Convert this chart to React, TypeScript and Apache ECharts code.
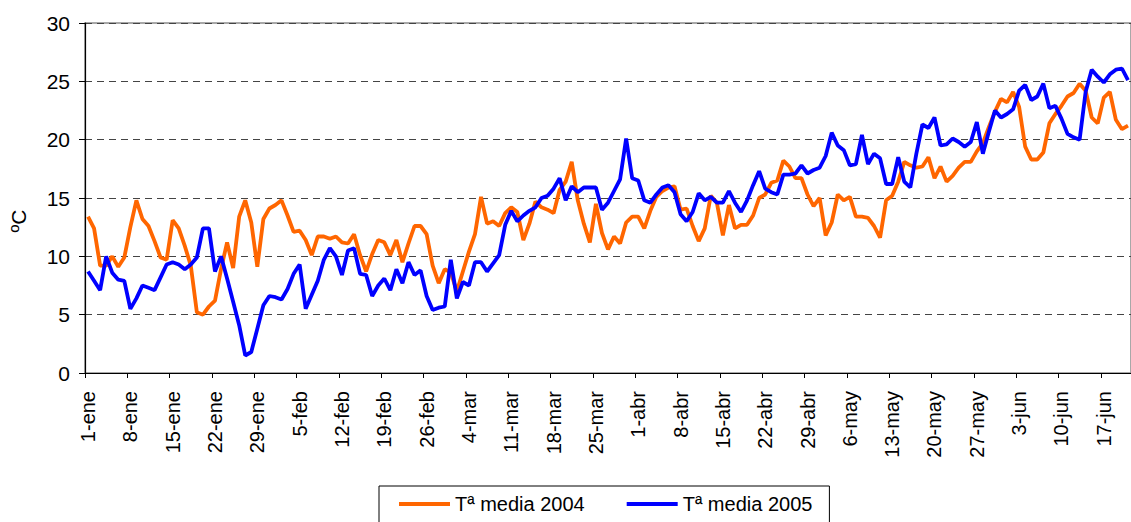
import { useEffect, useRef } from "react";
import * as echarts from "echarts";

const monthNames = ["ene", "feb", "mar", "abr", "may", "jun"];
const monthDays = [31, 29, 31, 30, 31, 30];
const dayCount = 173;
const categories: string[] = [];
for (let m = 0; m < monthNames.length && categories.length < dayCount; m++) {
  for (let d = 1; d <= monthDays[m] && categories.length < dayCount; d++) {
    categories.push(`${d}-${monthNames[m]}`);
  }
}

const seriesNames = ["Tª media 2004", "Tª media 2005"];

const media2004 = [
  13.4, 12.4, 9.2, 9.2, 10.0, 9.1, 9.9, 12.5, 14.8, 13.2,
  12.6, 11.3, 9.9, 9.7, 13.1, 12.4, 10.9, 9.2, 5.2, 5.0,
  5.7, 6.2, 8.9, 11.2, 9.0, 13.4, 14.8, 12.9, 9.1, 13.2,
  14.1, 14.4, 14.8, 13.5, 12.1, 12.2, 11.4, 10.1, 11.7, 11.7,
  11.5, 11.7, 11.2, 11.1, 11.9, 10.1, 8.7, 10.2, 11.4, 11.2,
  10.1, 11.4, 9.5, 11.1, 12.6, 12.6, 11.9, 9.2, 7.7, 8.9,
  8.6, 7.0, 8.7, 10.4, 11.9, 15.1, 12.8, 13.0, 12.6, 13.7,
  14.2, 13.8, 11.4, 12.8, 14.7, 14.2, 14.0, 13.7, 15.7, 16.4,
  18.1, 14.8, 12.8, 11.2, 14.5, 12.0, 10.6, 11.7, 11.1, 12.9,
  13.4, 13.4, 12.4, 13.9, 15.1, 15.6, 15.9, 16.0, 14.0, 14.1,
  12.6, 11.3, 12.4, 15.2, 14.6, 11.8, 14.4, 12.4, 12.7, 12.7,
  13.5, 15.0, 15.3, 16.3, 16.5, 18.2, 17.7, 16.7, 16.7, 15.3,
  14.3, 15.0, 11.8, 12.9, 15.3, 14.8, 15.1, 13.4, 13.4, 13.3,
  12.6, 11.6, 14.8, 15.2, 16.4, 18.1, 17.8, 17.6, 17.7, 18.5,
  16.7, 17.7, 16.4, 16.9, 17.6, 18.1, 18.1, 19.0, 19.7, 21.1,
  22.4, 23.5, 23.2, 24.1, 22.8, 19.4, 18.3, 18.3, 18.9, 21.4,
  22.2, 22.9, 23.7, 24.0, 24.8, 24.2, 21.9, 21.4, 23.6, 24.1,
  21.7, 20.9, 21.2,
];

const media2005 = [
  8.7, 7.9, 7.1, 10.0, 8.6, 8.0, 7.9, 5.5, 6.4, 7.5,
  7.3, 7.1, 8.2, 9.3, 9.5, 9.3, 8.9, 9.3, 9.9, 12.4,
  12.4, 8.7, 10.0, 8.1, 6.1, 4.1, 1.5, 1.8, 3.8, 5.8,
  6.6, 6.5, 6.3, 7.2, 8.5, 9.3, 5.5, 6.7, 7.9, 9.7,
  10.7, 10.0, 8.4, 10.5, 10.7, 8.5, 8.4, 6.6, 7.5, 8.1,
  7.1, 8.9, 7.7, 9.5, 8.4, 8.8, 6.6, 5.4, 5.6, 5.7,
  9.7, 6.4, 7.8, 7.5, 9.5, 9.5, 8.7, 9.4, 10.1, 12.7,
  13.9, 13.0, 13.5, 13.9, 14.2, 15.0, 15.2, 15.8, 16.7, 14.8,
  16.0, 15.5, 15.9, 15.9, 15.9, 14.0, 14.6, 15.6, 16.6, 20.1,
  16.7, 16.5, 14.8, 14.6, 15.3, 15.9, 16.1, 15.5, 13.6, 13.0,
  13.8, 15.4, 14.8, 15.1, 14.6, 14.6, 15.6, 14.6, 13.8, 14.8,
  16.1, 17.3, 15.8, 15.5, 15.3, 17.0, 17.0, 17.1, 17.8, 17.1,
  17.4, 17.6, 18.6, 20.6, 19.5, 19.1, 17.8, 17.9, 20.4, 17.9,
  18.8, 18.4, 16.2, 16.2, 18.5, 16.4, 15.9, 18.8, 21.3, 21.0,
  21.9, 19.5, 19.6, 20.1, 19.8, 19.4, 19.8, 21.5, 18.8, 20.7,
  22.5, 21.9, 22.2, 22.6, 24.2, 24.7, 23.4, 23.7, 24.8, 22.7,
  22.9, 21.8, 20.5, 20.2, 20.0, 24.1, 26.0, 25.4, 24.9, 25.6,
  26.0, 26.1, 25.1,
];

const yMin = 0;
const yMax = 30;
const yStep = 5;
const yTitle = "ºC";
const colors = ["#FF6600", "#0000FF"];

const FONT = "'Liberation Sans', Arial, Helvetica, sans-serif";

export default function App() {
  const ref = useRef<HTMLDivElement>(null);
  useEffect(() => {
    if (!ref.current) return;
    const chart = echarts.init(ref.current, undefined, { renderer: "svg" });
    chart.setOption({
      animation: false,
      backgroundColor: "#ffffff",
      color: colors,
      grid: {
        left: 85,
        top: 23,
        width: 1052,
        bottom: 149,
        show: true,
        borderColor: "#8c8c8c",
        borderWidth: 1.5,
      },
      xAxis: {
        type: "category",
        data: categories,
        boundaryGap: true,
        axisLine: { lineStyle: { color: "#000", width: 1.2 } },
        axisTick: { show: true, interval: 6, length: 5, lineStyle: { color: "#000" } },
        axisLabel: {
          interval: 6,
          rotate: 90,
          margin: 18,
          fontSize: 20,
          color: "#000",
          fontFamily: FONT,
        },
        splitLine: { show: false },
      },
      yAxis: {
        type: "value",
        min: yMin,
        max: yMax,
        interval: yStep,
        axisLine: { show: true, lineStyle: { color: "#000", width: 1.2 } },
        axisTick: { show: true, length: 6, lineStyle: { color: "#000" } },
        axisLabel: { margin: 15, fontSize: 21, color: "#000", fontFamily: FONT },
        splitLine: {
          show: true,
          lineStyle: { color: "#444", width: 1.2, type: [7, 5] },
        },
      },
      legend: {
        left: 379,
        top: 486,
        padding: [8, 17, 12, 20],
        itemGap: 42,
        itemWidth: 51,
        itemHeight: 4,
        icon: "rect",
        borderColor: "#000",
        borderWidth: 1,
        textStyle: { fontSize: 20, color: "#000", fontFamily: FONT },
        data: seriesNames,
      },
      graphic: [
        {
          type: "text",
          x: 18,
          y: 221,
          rotation: Math.PI / 2,
          style: {
            text: yTitle,
            fontSize: 21,
            fontFamily: FONT,
            fill: "#000",
            align: "center",
            verticalAlign: "middle",
          },
        },
      ],
      series: [
        {
          name: seriesNames[0],
          type: "line",
          data: media2004,
          symbol: "none",
          lineStyle: { width: 3.8, color: colors[0] },
          z: 2,
        },
        {
          name: seriesNames[1],
          type: "line",
          data: media2005,
          symbol: "none",
          lineStyle: { width: 3.8, color: colors[1] },
          z: 3,
        },
      ],
    });
    return () => chart.dispose();
  }, []);
  return (
    <div
      ref={ref}
      style={{ position: "fixed", left: 0, top: 0, width: 1131, height: 522 }}
    />
  );
}
